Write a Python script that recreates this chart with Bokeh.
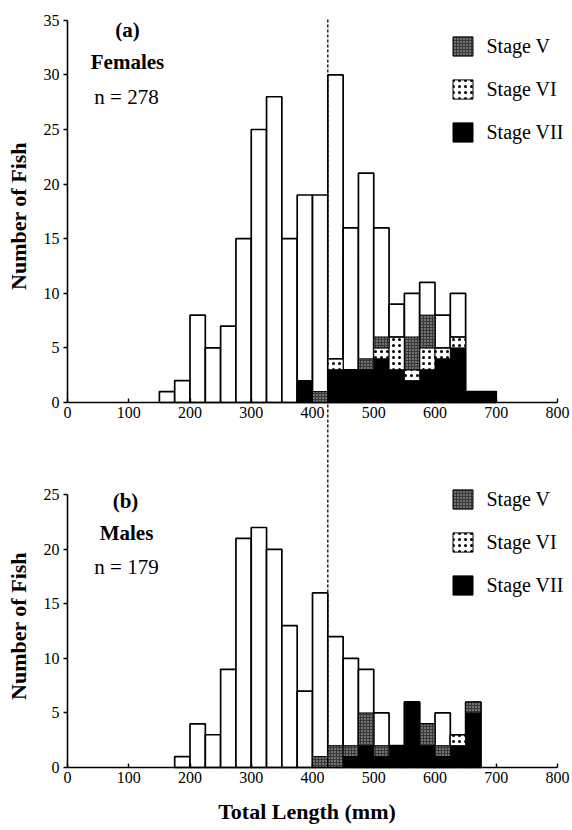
import math
from bokeh.plotting import figure
from bokeh.models import (ColumnDataSource, FixedTicker, Label, Legend,
                          LegendItem, Range1d, LinearAxis)
from bokeh.embed import file_html
from bokeh.resources import INLINE

# ---------------- data ----------------
bin_width = 25
female_bins = [150, 175, 200, 225, 250, 275, 300, 325, 350, 375, 400,
               425, 450, 475, 500, 525, 550, 575, 600, 625, 650, 675]
female_total = [1, 2, 8, 5, 7, 15, 25, 28, 15, 19, 19,
                30, 16, 21, 16, 9, 10, 11, 8, 10, 1, 1]
female_stage_vii = [0, 0, 0, 0, 0, 0, 0, 0, 0, 2, 0,
                    3, 3, 3, 4, 3, 2, 3, 4, 5, 1, 1]
female_stage_vi = [0, 0, 0, 0, 0, 0, 0, 0, 0, 0, 0,
                   1, 0, 0, 1, 3, 1, 2, 1, 1, 0, 0]
female_stage_v = [0, 0, 0, 0, 0, 0, 0, 0, 0, 0, 1,
                  0, 0, 1, 1, 0, 3, 3, 0, 0, 0, 0]

male_bins = [175, 200, 225, 250, 275, 300, 325, 350, 375, 400,
             425, 450, 475, 500, 525, 550, 575, 600, 625, 650]
male_total = [1, 4, 3, 9, 21, 22, 20, 13, 7, 16,
              12, 10, 9, 5, 2, 6, 4, 5, 3, 6]
male_stage_vii = [0, 0, 0, 0, 0, 0, 0, 0, 0, 0,
                  0, 1, 2, 1, 2, 6, 2, 1, 2, 5]
male_stage_vi = [0, 0, 0, 0, 0, 0, 0, 0, 0, 0,
                 0, 0, 0, 0, 0, 0, 0, 0, 1, 0]
male_stage_v = [0, 0, 0, 0, 0, 0, 0, 0, 0, 1,
                2, 1, 3, 1, 0, 0, 2, 1, 0, 1]

x_ticks = [0, 100, 200, 300, 400, 500, 600, 700, 800]
female_y_ticks = [0, 5, 10, 15, 20, 25, 30, 35]
male_y_ticks = [0, 5, 10, 15, 20, 25]
maturity_threshold = 425
stage_names = ["Stage V", "Stage VI", "Stage VII"]
y_title = "Number  of  Fish"
x_title = "Total  Length  (mm)"

# ---------------- geometry (page pixels; the page has no margin) ----------------
SERIF = "Liberation Serif"
PAGE = 0
FW, FH = 570, 828            # one figure, frame = whole figure
X0_PX = 67                   # page x of length 0
PX_X = (557 - X0_PX) / 800   # px per mm
A0_PX, PX_A = 402, 10.92     # panel (a): page y of 0, px per fish
B0_PX, PX_B = 767, 10.91     # panel (b)
BOTTOM = PAGE + FH


def gx(px):
    return (px - X0_PX) / PX_X


def ga(py):
    return (A0_PX - py) / PX_A


def gb(py):
    return (B0_PX - py) / PX_B


p = figure(frame_width=FW, frame_height=FH, output_backend="svg",
           toolbar_location=None,
           x_range=Range1d(gx(PAGE), gx(PAGE + FW)),
           y_range=Range1d(ga(BOTTOM), ga(PAGE)),
           min_border=0, min_border_left=0, min_border_right=0,
           min_border_top=0, min_border_bottom=0)
p.extra_y_ranges = {"b": Range1d(gb(BOTTOM), gb(PAGE))}
p.outline_line_color = None
p.xgrid.visible = False
p.ygrid.visible = False


def style_axis(ax, ticks, bounds, horizontal):
    ax.ticker = FixedTicker(ticks=ticks)
    ax.bounds = bounds
    ax.fixed_location = 0
    ax.minor_tick_line_color = None
    ax.axis_line_width = 1.6
    ax.major_tick_line_width = 1.4
    ax.major_label_text_font = SERIF
    ax.major_label_text_font_size = "16px"
    ax.major_label_text_color = "black"
    ax.major_label_standoff = 4
    if horizontal:
        ax.major_tick_in, ax.major_tick_out = 4, 0
    else:
        ax.major_tick_in, ax.major_tick_out = 0, 4


# axes of panel (a) (default ranges)
style_axis(p.xaxis[0], x_ticks, (0, 800), True)
style_axis(p.yaxis[0], female_y_ticks, (0, 35), False)
# axes of panel (b) (range "b")
xb = LinearAxis(y_range_name="b")
style_axis(xb, x_ticks, (0, 800), True)
p.add_layout(xb, "below")
yb = LinearAxis(y_range_name="b")
style_axis(yb, male_y_ticks, (0, 25), False)
p.add_layout(yb, "left")


def draw_bars(bins, total, vii, vi, v, rname):
    src = ColumnDataSource(dict(
        x=[b + bin_width / 2 for b in bins],
        total=total, vii=vii, vi=vi, v=v))
    p.vbar(x="x", top="total", width=bin_width, source=src, fill_color="white",
           line_color="black", line_width=1.7, y_range_name=rname)
    return p.vbar_stack(["vii", "vi", "v"], x="x", width=bin_width, source=src,
                        fill_color=["black", "white", "#383838"],
                        hatch_pattern=[" ", "dot", "dot"],
                        hatch_color=["black", "black", "#c8c8c8"],
                        hatch_scale=[6, 6, 3],
                        hatch_weight=[1, 0.7, 0.7],
                        line_color="black", line_width=1.0,
                        y_range_name=rname)


rs_a = draw_bars(female_bins, female_total, female_stage_vii,
                 female_stage_vi, female_stage_v, "default")
rs_b = draw_bars(male_bins, male_total, male_stage_vii,
                 male_stage_vi, male_stage_v, "b")

# dashed length threshold running through both panels
p.segment(x0=[maturity_threshold], y0=[0], x1=[maturity_threshold],
          y1=[gb(A0_PX - 35 * PX_A - 2)],
          line_color="black", line_dash="3 2", line_width=1.3, y_range_name="b")


def text(x, y, t, rname, style="normal", size="21px", angle=0.0):
    p.add_layout(Label(x=x, y=y, text=t, y_range_name=rname, angle=angle,
                       text_font=SERIF, text_font_style=style, text_font_size=size,
                       text_align="center", text_baseline="middle",
                       text_color="black"))


# panel texts
text(gx(127), ga(29), "(a)", "default", "bold")
text(gx(127), ga(61), "Females", "default", "bold")
text(gx(126), ga(96), "n = 278", "default")
text(gx(125), gb(500), "(b)", "b", "bold")
text(gx(126), gb(532), "Males", "b", "bold")
text(gx(126), gb(566), "n = 179", "b")
# axis titles
text(gx(18), ga(210), y_title, "default", "bold", "22px", math.pi / 2)
text(gx(18), gb(620), y_title, "b", "bold", "22px", math.pi / 2)
text(gx(312), gb(811), x_title, "b", "bold", "22px")


def add_legend(rs, top_py):
    r_vii, r_vi, r_v = rs
    legend = Legend(items=[LegendItem(label=stage_names[0], renderers=[r_v]),
                           LegendItem(label=stage_names[1], renderers=[r_vi]),
                           LegendItem(label=stage_names[2], renderers=[r_vii])],
                    location=(449.5 - PAGE, BOTTOM - (top_py + 111)),
                    orientation="vertical",
                    background_fill_alpha=0, border_line_alpha=0,
                    padding=0, margin=0, spacing=19,
                    glyph_width=25, glyph_height=24, label_height=24,
                    label_standoff=12, label_text_font=SERIF,
                    label_text_font_size="20px", label_text_color="black",
                    label_text_baseline="middle")
    p.add_layout(legend)


add_legend(rs_a, 33)
add_legend(rs_b, 486)

open("out.html", "w").write(file_html(p, INLINE))
